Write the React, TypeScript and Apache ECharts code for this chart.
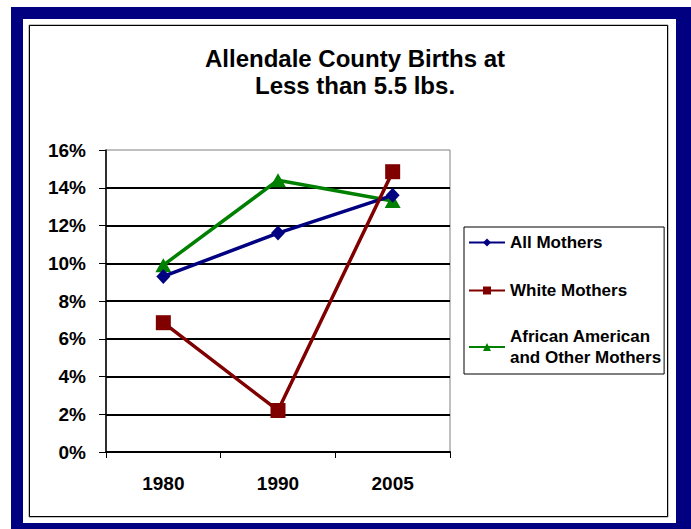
import React, { useEffect, useRef } from "react";
import * as echarts from "echarts";

const categories = ["1980", "1990", "2005"];
const allMothers = [9.3, 11.6, 13.6];
const whiteMothers = [6.85, 2.2, 14.85];
const africanAmericanMothers = [9.9, 14.4, 13.3];
const seriesNames = ["All Mothers", "White Mothers", "African American and Other Mothers"];
const titleLines = ["Allendale County Births at", "Less than 5.5 lbs."];

export default function App() {
  const ref = useRef<HTMLDivElement>(null);
  useEffect(() => {
    if (!ref.current) return;
    const chart = echarts.init(ref.current, null, { renderer: "svg" });
    const font = "'Liberation Sans', Arial, sans-serif";
    chart.setOption({
      animation: false,
      backgroundColor: "#ffffff",
      textStyle: { fontFamily: font },
      graphic: [
        { type: "rect", z: -10, shape: { x: 11, y: 7, width: 690, height: 530 }, style: { fill: "#000080" } },
        { type: "rect", z: -9, shape: { x: 23, y: 19, width: 653, height: 504 }, style: { fill: "#ffffff" } },
        { type: "rect", z: -8, shape: { x: 29, y: 25, width: 639, height: 492 }, style: { fill: "none", stroke: "#888888", lineWidth: 1 } },
        { type: "rect", z: -8, shape: { x: 29.5, y: 25.5, width: 638, height: 491 }, style: { fill: "none", stroke: "#000000", lineWidth: 1 } },
      ],
      title: {
        text: titleLines.join("\n"),
        left: 350,
        top: 40,
        textAlign: "center",
        textStyle: { fontFamily: font, fontSize: 24, fontWeight: "bold", color: "#000", lineHeight: 27 },
      },
      legend: {
        orient: "vertical",
        left: 464,
        top: 227,
        padding: [5, 3, 8, 4],
        itemGap: 27,
        itemWidth: 36,
        itemHeight: 10,
        borderColor: "#000",
        borderWidth: 1,
        backgroundColor: "#fff",
        data: [
          { name: seriesNames[0] },
          { name: seriesNames[1] },
          { name: seriesNames[2], textStyle: { padding: [0, 0, -21, 0] } },
        ],
        formatter: (n: string) => n.replace(" and ", "\nand "),
        textStyle: { fontFamily: font, fontSize: 17, fontWeight: "bold", color: "#000", lineHeight: 21 },
      },
      grid: {
        left: 106,
        top: 150,
        right: 241,
        bottom: 77,
        show: true,
        borderColor: "#808080",
        borderWidth: 1,
        backgroundColor: "transparent",
      },
      xAxis: {
        type: "category",
        data: categories,
        boundaryGap: true,
        axisLine: { lineStyle: { color: "#000", width: 2 } },
        axisTick: { show: true, length: 6, lineStyle: { color: "#000", width: 1 } },
        axisLabel: { margin: 22, fontFamily: font, fontSize: 19, fontWeight: "bold", color: "#000" },
        splitLine: { show: false },
      },
      yAxis: {
        type: "value",
        min: 0,
        max: 16,
        interval: 2,
        axisLine: { show: true, lineStyle: { color: "#000", width: 1.5 } },
        axisTick: { show: true, length: 7, lineStyle: { color: "#000", width: 1 } },
        axisLabel: {
          margin: 20,
          formatter: (v: number) => v + "%",
          fontFamily: font,
          fontSize: 19,
          fontWeight: "bold",
          color: "#000",
        },
        splitLine: { show: true, showMaxLine: false, lineStyle: { color: "#000", width: 2 } },
      },
      series: [
        {
          name: seriesNames[0],
          type: "line",
          data: allMothers,
          symbol: "diamond",
          symbolSize: [14, 15],
          lineStyle: { color: "#000080", width: 3.5 },
          itemStyle: { color: "#000080" },
          z: 3,
        },
        {
          name: seriesNames[1],
          type: "line",
          data: whiteMothers,
          symbol: "rect",
          symbolSize: 15,
          lineStyle: { color: "#800000", width: 3.5 },
          itemStyle: { color: "#800000" },
          z: 4,
        },
        {
          name: seriesNames[2],
          type: "line",
          data: africanAmericanMothers,
          symbol: "triangle",
          symbolSize: [16, 14],
          lineStyle: { color: "#008000", width: 3.5 },
          itemStyle: { color: "#008000" },
          z: 2,
        },
      ],
    });
    return () => chart.dispose();
  }, []);
  return (
    <div
      ref={ref}
      style={{ position: "fixed", left: 0, top: 0, width: 691, height: 529 }}
    />
  );
}
